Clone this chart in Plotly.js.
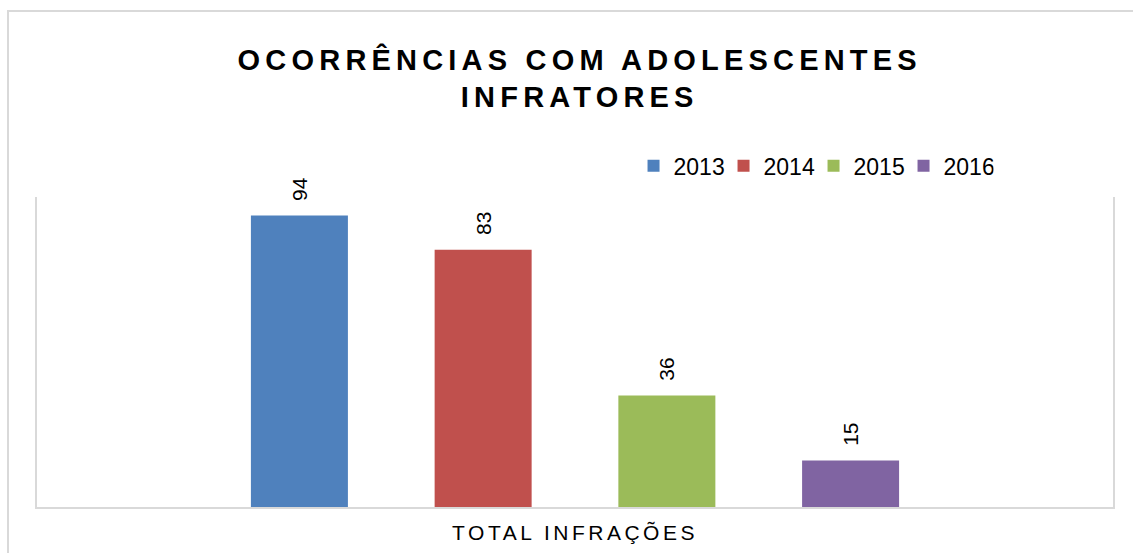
<!DOCTYPE html>
<html>
<head>
<meta charset="utf-8">
<script src="https://cdn.plot.ly/plotly-3.0.1.min.js"></script>
<style>
  html, body { margin: 0; padding: 0; background: #ffffff; }
  #chart { width: 1133px; height: 553px; }
  .gtitle { letter-spacing: 5.2px; }
  .xtick text { letter-spacing: 3.5px; }
</style>
</head>
<body>
<div id="chart"></div>
<script>
const categories = ['TOTAL INFRAÇÕES'];
const seriesNames = ['2013', '2014', '2015', '2016'];
const values2013 = [94];
const values2014 = [83];
const values2015 = [36];
const values2016 = [15];
const seriesValues = [values2013, values2014, values2015, values2016];
const seriesColors = ['#4F81BD', '#C0504D', '#9BBB59', '#8064A2'];

const FONT = 'Arial, "Liberation Sans", sans-serif';

const traces = seriesNames.map((name, i) => ({
  type: 'bar',
  name: name,
  x: categories,
  y: seriesValues[i],
  marker: { color: seriesColors[i] },
  text: seriesValues[i].map(v => String(v)),
  texttemplate: '\u00a0\u00a0%{text}',
  textposition: 'outside',
  textangle: -90,
  constraintext: 'none',
  cliponaxis: false,
  textfont: { family: FONT, size: 21, color: '#000000' },
  hoverinfo: 'skip'
}));

const layout = {
  width: 1133,
  height: 553,
  margin: { l: 37, r: 20, t: 197, b: 46, pad: 0 },
  paper_bgcolor: '#ffffff',
  plot_bgcolor: '#ffffff',
  font: { family: FONT, color: '#000000' },
  title: {
    text: 'OCORRÊNCIAS COM ADOLESCENTES<br>INFRATORES',
    font: { family: FONT, size: 29, color: '#000000', weight: 'bold' },
    xref: 'paper',
    x: 0.5044,
    xanchor: 'center',
    yref: 'container',
    y: 0.874,
    yanchor: 'top'
  },
  barmode: 'group',
  bargap: 0.317,
  bargroupgap: 0.472,
  showlegend: true,
  legend: {
    orientation: 'h',
    x: 0.5544,
    xanchor: 'left',
    y: 1.101,
    yanchor: 'middle',
    entrywidth: 45,
    entrywidthmode: 'pixels',
    font: { family: FONT, size: 23, color: '#000000' },
    bgcolor: 'rgba(0,0,0,0)',
    traceorder: 'normal'
  },
  xaxis: {
    type: 'category',
    showline: true,
    linecolor: '#d9d9d9',
    linewidth: 2,
    ticks: '',
    ticklabelstandoff: 6,
    showgrid: false,
    zeroline: false,
    tickfont: { family: FONT, size: 21, color: '#000000' },
    fixedrange: true
  },
  yaxis: {
    range: [0, 100],
    showline: true,
    mirror: true,
    linecolor: '#d9d9d9',
    linewidth: 2,
    showgrid: false,
    zeroline: false,
    showticklabels: false,
    ticks: '',
    fixedrange: true
  },
  shapes: [{
    type: 'rect',
    xref: 'paper', yref: 'paper',
    x0: -29 / 1076, x1: 1140 / 1076,
    y0: -60 / 310, y1: 496 / 310,
    line: { color: '#d9d9d9', width: 2 },
    fillcolor: 'rgba(0,0,0,0)',
    layer: 'below'
  }]
};

Plotly.newPlot('chart', traces, layout, { displayModeBar: false, staticPlot: true });
</script>
</body>
</html>
